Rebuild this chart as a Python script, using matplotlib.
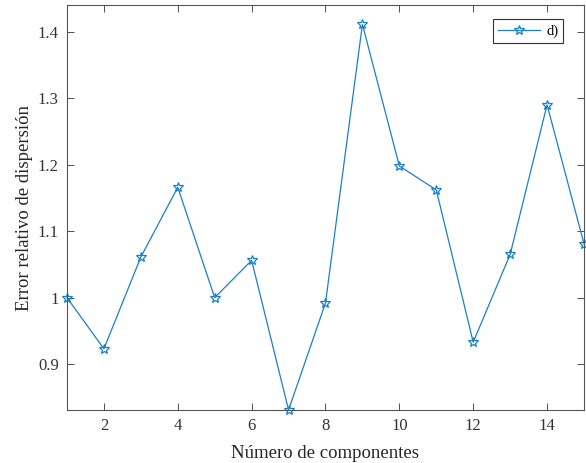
import matplotlib
matplotlib.use('Agg')
import matplotlib.pyplot as plt

componentes = list(range(1, 16))
error_rel = [1.000, 0.923, 1.061, 1.166, 1.000, 1.056, 0.831, 0.992,
             1.411, 1.198, 1.162, 0.933, 1.065, 1.290, 1.081]
yticks = [0.9, 1.0, 1.1, 1.2, 1.3, 1.4]
ytick_labels = ['0.9', '1', '1.1', '1.2', '1.3', '1.4']

plt.rcParams['font.family'] = 'Liberation Serif'

fig = plt.figure(figsize=(5.86, 4.63), dpi=100)
ax = fig.add_axes([0.1143, 0.1145, 0.8823, 0.8745])

ax.plot(componentes, error_rel, color='#1a80c6', linewidth=0.9,
        marker='*', markersize=7.5, markerfacecolor='none',
        markeredgewidth=0.9, label='d)', clip_on=False)

ax.set_xlim(1, 15)
ax.set_ylim(0.831, 1.44)
ax.set_xticks(range(2, 16, 2))
ax.set_yticks(yticks)
ax.set_yticklabels(ytick_labels)
ax.tick_params(direction='in', top=True, right=True, length=5,
               width=0.6, colors='#333333', labelsize=12, pad=6)
for s in ax.spines.values():
    s.set_color('#555555')
    s.set_linewidth(0.8)

ax.set_xlabel('Número de componentes', fontsize=13.5, color='#262626',
              labelpad=8)
ax.set_ylabel('Error relativo de dispersión', fontsize=13.5, color='#262626',
              labelpad=3)

leg = ax.legend(loc='upper right', bbox_to_anchor=(0.96, 0.965),
                fancybox=False, framealpha=1, edgecolor='#333333',
                handlelength=2.9, fontsize=10.5, borderaxespad=0,
                handletextpad=0.4, borderpad=0.35)
leg.get_frame().set_linewidth(0.8)

fig.savefig('out.png', dpi=100)
